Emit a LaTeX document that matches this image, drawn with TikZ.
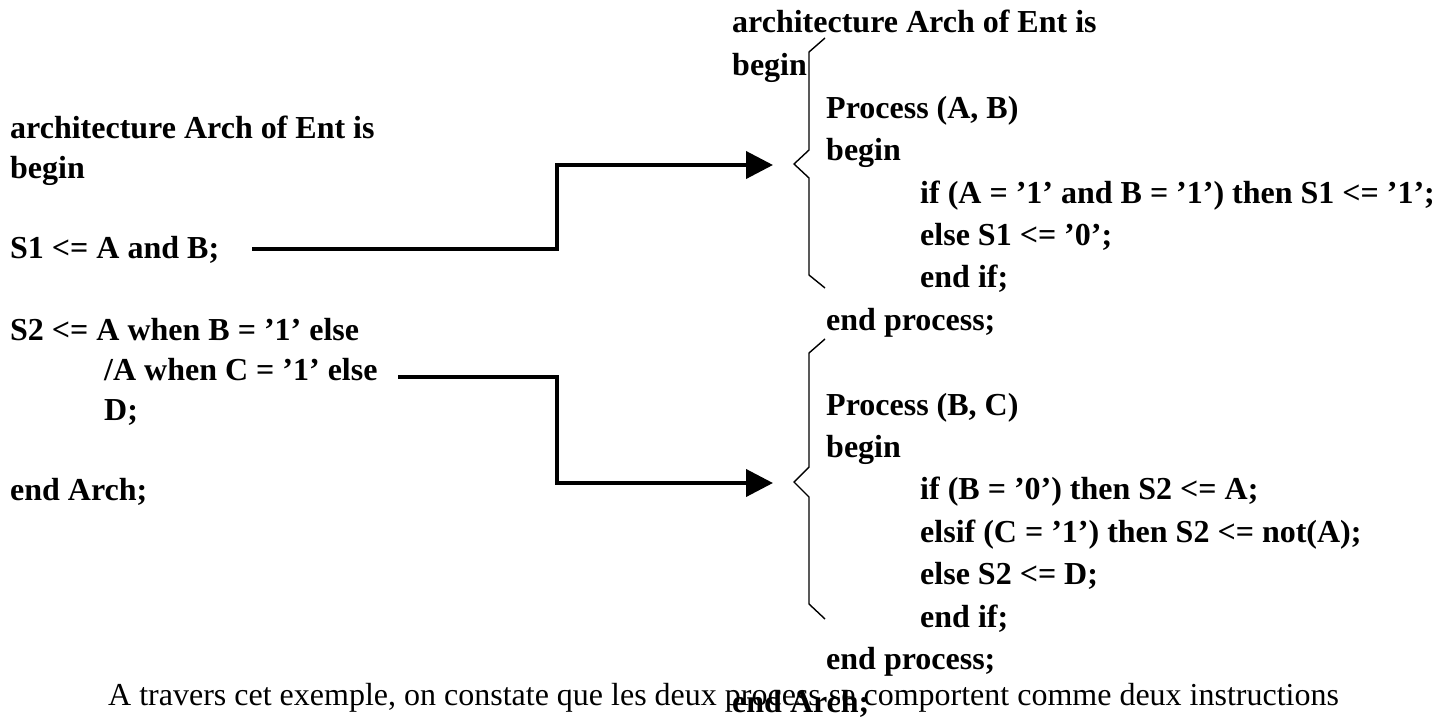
\documentclass[tikz,border=0pt]{standalone}
\usepackage{fontspec}
\setmainfont{Liberation Serif}
\usetikzlibrary{arrows.meta}
\begin{document}
\begin{tikzpicture}[x=1pt,y=-1pt,
  code/.style={anchor=base west,inner sep=0pt,font=\bfseries\fontsize{32}{40}\selectfont},
  prose/.style={anchor=base west,inner sep=0pt,font=\fontsize{32}{40}\selectfont},
  flow/.style={line width=4pt,-{Triangle[length=27pt,width=27pt]}},
  brace/.style={line width=1.4pt,line join=miter}]
\useasboundingbox (0,0) rectangle (1442,717);
% left column
\node[code] (l1) at (10,138) {architecture Arch of Ent is};
\node[code] (l2) at (10,178) {begin};
\node[code] (s1) at (10,258) {S1 <= A and B;};
\node[code] (s2) at (10,340) {S2 <= A when B = ’1’ else};
\node[code] (s2b) at (104,380) {/A when C = ’1’ else};
\node[code] (s2c) at (104,420) {D;};
\node[code] (l7) at (10,500) {end Arch;};
% right column
\node[code] (r1) at (732,33) {architecture Arch of Ent is};
\node[code] (r2) at (732,75) {begin};
\node[code] (p1) at (826,118) {Process (A, B)};
\node[code] (p1b) at (826,160) {begin};
\node[code] (p1c) at (920,203) {if (A = ’1’ and B = ’1’) then S1 <= ’1’;};
\node[code] (p1d) at (920,245) {else S1 <= ’0’;};
\node[code] (p1e) at (920,287) {end if;};
\node[code] (p1f) at (826,330) {end process;};
\node[code] (p2) at (826,415) {Process (B, C)};
\node[code] (p2b) at (826,457) {begin};
\node[code] (p2c) at (920,499) {if (B = ’0’) then S2 <= A;};
\node[code] (p2d) at (920,542) {elsif (C = ’1’) then S2 <= not(A);};
\node[code] (p2e) at (920,584) {else S2 <= D;};
\node[code] (p2f) at (920,627) {end if;};
\node[code] (p2g) at (826,669) {end process;};
\node[prose] (txt) at (108,705) {A travers cet exemple, on constate que les deux process se comportent comme deux instructions};
\node[code] (r3) at (732,712) {end Arch;};
% braces
\coordinate (b1) at (794,164);
\coordinate (b2) at (794,482);
\draw[brace] (825,38) -- (809,52) -- (809,150) -- (b1) -- (809,178) -- (809,275) -- (825,288);
\draw[brace] (825,339) -- (809,353) -- (809,467) -- (b2) -- (809,497) -- (809,604) -- (825,619);
% connectors
\coordinate (a1s) at (252,249);
\coordinate (a1m) at (557,249);
\coordinate (a1e) at (773,165);
\coordinate (a2s) at (398,377);
\coordinate (a2m) at (557,377);
\coordinate (a2e) at (773,483);
\draw[flow] (a1s) -- (a1m) |- (a1e);
\draw[flow] (a2s) -- (a2m) |- (a2e);
\end{tikzpicture}
\end{document}
